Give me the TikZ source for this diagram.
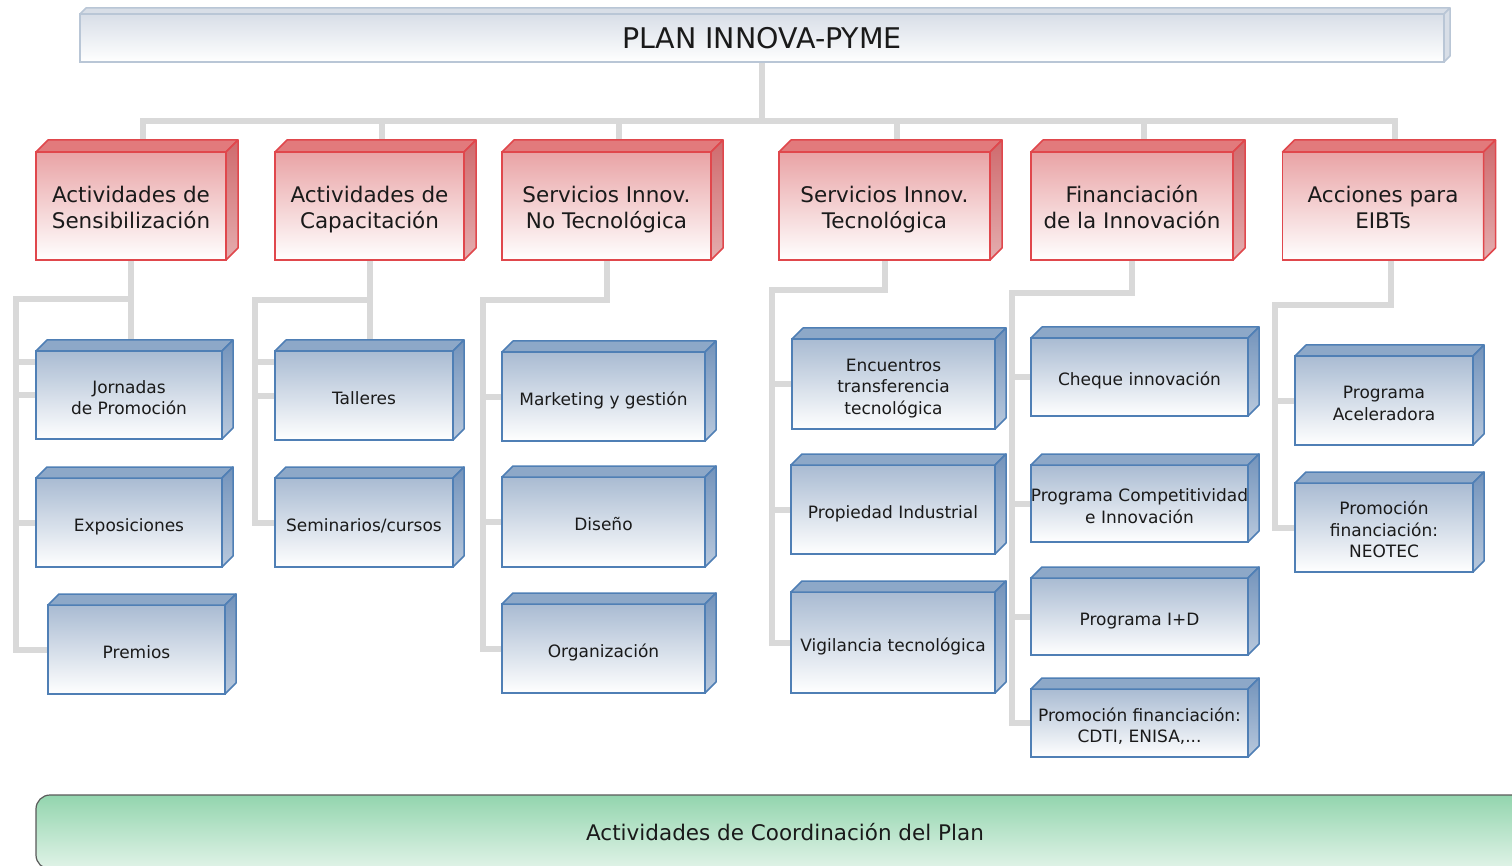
\documentclass[tikz,border=0pt]{standalone}
\usepackage{fontspec}
\setmainfont{DejaVu Sans}
\usetikzlibrary{backgrounds}

\definecolor{conngray}{HTML}{D9D9D9}
\definecolor{txt}{HTML}{1A1A1A}
\definecolor{redline}{HTML}{E0474C}
\definecolor{redtop}{HTML}{E9A3A5}
\definecolor{redbevel}{HTML}{E27A7C}
\definecolor{redside}{HTML}{CF6A6D}
\definecolor{blueline}{HTML}{4F7FB5}
\definecolor{bluetop}{HTML}{A9BBD2}
\definecolor{bluebevel}{HTML}{8DA8C8}
\definecolor{blueside}{HTML}{7393BB}
\definecolor{planline}{HTML}{B9C6D6}
\definecolor{plantop}{HTML}{D8DEE7}
\definecolor{greentop}{HTML}{93D5AE}
\definecolor{greenbot}{HTML}{E1F3E8}

% text of the boxes, a bit lower than the plain centre
\newcommand{\cattext}[2]{\rule{0pt}{26pt}#1\\#2\strut}
\newcommand{\itemtext}[1]{\rule{0pt}{24pt}#1\strut}

\begin{document}
\begin{tikzpicture}[x=1pt,y=-1pt,
    conn/.style={draw=conngray, line width=6pt, line cap=rect},
    planbox/.style={draw=planline, line width=1.5pt, top color=plantop, bottom color=white,
      inner sep=0pt, outer sep=0pt, text=txt, font=\fontsize{28.5}{34}\selectfont},
    catbox/.style={draw=redline, line width=1.5pt, top color=redtop, bottom color=white,
      inner sep=0pt, outer sep=0pt, minimum height=108pt, align=center, text=txt,
      font=\fontsize{21.5}{26}\selectfont},
    itembox/.style={draw=blueline, line width=1.5pt, top color=bluetop, bottom color=white,
      inner sep=0pt, outer sep=0pt, align=center, text=txt,
      font=\fontsize{17}{21.5}\selectfont},
    redface/.style={draw=redline, line width=1.5pt, line join=round},
    blueface/.style={draw=blueline, line width=1.5pt, line join=round},
    planface/.style={draw=planline, line width=1.5pt, line join=round, fill=plantop}
  ]
  \useasboundingbox (0,0) rectangle (1512,866);

  % Title box
  \node[planbox, minimum width=1364pt, minimum height=48pt] (plan) at (762,38) {PLAN INNOVA-PYME};
  \filldraw[planface] (plan.north west) -- ++(6,-6) -- ([shift={(6,-6)}]plan.north east) -- (plan.north east) -- cycle;
  \filldraw[planface] (plan.north east) -- ++(6,-6) -- ([shift={(6,-6)}]plan.south east) -- (plan.south east) -- cycle;

  % Main lines of action (red)
  \node[catbox, minimum width=190pt] (sens)  at (131,206)   {\cattext{Actividades de}{Sensibilización}};
  \node[catbox, minimum width=189pt] (capa)  at (369.5,206) {\cattext{Actividades de}{Capacitación}};
  \node[catbox, minimum width=209pt] (noTec) at (606.5,206) {\cattext{Servicios Innov.}{No Tecnológica}};
  \node[catbox, minimum width=211pt] (tec)   at (884.5,206) {\cattext{Servicios Innov.}{Tecnológica}};
  \node[catbox, minimum width=202pt] (fin)   at (1132,206)  {\cattext{Financiación}{de la Innovación}};
  \node[catbox, minimum width=201pt] (eibt)  at (1383,206)  {\cattext{Acciones para}{EIBTs}};

  % Actions of each line (blue)
  \node[itembox, minimum width=186pt, minimum height=88pt] (jorn) at (129,395)   {\itemtext{Jornadas\\de Promoción}};
  \node[itembox, minimum width=186pt, minimum height=89pt] (expo) at (129,522.5) {\itemtext{Exposiciones}};
  \node[itembox, minimum width=177pt, minimum height=89pt] (prem) at (136.5,649.5) {\itemtext{Premios}};

  \node[itembox, minimum width=178pt, minimum height=89pt] (tall) at (364,395.5) {\itemtext{Talleres}};
  \node[itembox, minimum width=178pt, minimum height=89pt] (semi) at (364,522.5) {\itemtext{Seminarios/cursos}};

  \node[itembox, minimum width=203pt, minimum height=89pt] (mark) at (603.5,396.5) {\itemtext{Marketing y gestión}};
  \node[itembox, minimum width=203pt, minimum height=90pt] (dise) at (603.5,522)   {\itemtext{Diseño}};
  \node[itembox, minimum width=203pt, minimum height=89pt] (orga) at (603.5,648.5) {\itemtext{Organización}};

  \node[itembox, minimum width=203pt, minimum height=90pt]  (encu) at (893.5,384)   {\itemtext{Encuentros\\transferencia\\tecnológica}};
  \node[itembox, minimum width=204pt, minimum height=89pt]  (prop) at (893,509.5)   {\itemtext{Propiedad Industrial}};
  \node[itembox, minimum width=204pt, minimum height=101pt] (vigi) at (893,642.5)   {\itemtext{Vigilancia tecnológica}};

  \node[itembox, minimum width=217pt, minimum height=78pt] (cheq)  at (1139.5,377)   {\itemtext{Cheque innovación}};
  \node[itembox, minimum width=217pt, minimum height=77pt] (comp)  at (1139.5,503.5) {\itemtext{\makebox[0pt]{Programa Competitividad}\\e Innovación}};
  \node[itembox, minimum width=217pt, minimum height=77pt] (imasd) at (1139.5,616.5) {\itemtext{Programa I+D}};
  \node[itembox, minimum width=217pt, minimum height=68pt] (cdti)  at (1139.5,723)   {\itemtext{Promoción financiación:\\CDTI, ENISA,...}};

  \node[itembox, minimum width=178pt, minimum height=89pt] (acel) at (1384,400.5) {\itemtext{Programa\\Aceleradora}};
  \node[itembox, minimum width=178pt, minimum height=89pt] (neot) at (1384,527.5) {\itemtext{Promoción\\financiación:\\NEOTEC}};

  % 3D faces
  \foreach \n in {sens,capa,noTec,tec,fin,eibt}{
    \filldraw[redface, fill=redbevel] (\n.north west) -- ++(12,-12) -- ([shift={(12,-12)}]\n.north east) -- (\n.north east) -- cycle;
    \filldraw[redface, top color=redside, bottom color=redside!55!white] (\n.north east) -- ++(12,-12) -- ([shift={(12,-12)}]\n.south east) -- (\n.south east) -- cycle;
  }
  \foreach \n in {jorn,expo,prem,tall,semi,mark,dise,orga,encu,prop,vigi,cheq,comp,imasd,cdti,acel,neot}{
    \filldraw[blueface, fill=bluebevel] (\n.north west) -- ++(11,-11) -- ([shift={(11,-11)}]\n.north east) -- (\n.north east) -- cycle;
    \filldraw[blueface, top color=blueside, bottom color=blueside!50!white] (\n.north east) -- ++(11,-11) -- ([shift={(11,-11)}]\n.south east) -- (\n.south east) -- cycle;
  }

  % Coordination bar
  \node[draw=black!65, line width=1.2pt, rounded corners=14pt, top color=greentop, bottom color=greenbot,
    minimum width=1498pt, minimum height=74pt, inner sep=0pt, text=txt,
    font=\fontsize{21.5}{26}\selectfont] (coord) at (785,832) {Actividades de Coordinación del Plan};

  % Connectors
  \begin{scope}[on background layer]
    \coordinate (bus) at (0,121);
    \draw[conn] (plan.south) -- (plan.south |- bus);
    \draw[conn] ([xshift=12pt]sens.north |- bus) -- ([xshift=12pt]eibt.north |- bus);
    \foreach \n in {sens,capa,noTec,tec,fin,eibt}
      \draw[conn] ([xshift=12pt]\n.north |- bus) -- ([shift={(12,-12)}]\n.north);

    % column 1
    \coordinate (c1) at (16,299);
    \draw[conn] (sens.south) |- (c1) -- (c1 |- prem.west) -- (prem.west);
    \draw[conn] (sens.south) -- ++(0,102) -| (c1);
    \foreach \k in {jorn,expo} \draw[conn] (c1 |- \k.west) -- (\k.west);

    % column 2
    \coordinate (c2) at (255,300);
    \draw[conn] (capa.south) |- (c2) -- (c2 |- semi.west) -- (semi.west);
    \draw[conn] (capa.south) -- ++(0,102) -| (c2);
    \draw[conn] (c2 |- tall.west) -- (tall.west);

    % column 3
    \coordinate (c3) at (483,300);
    \draw[conn] (noTec.south) |- (c3) -- (c3 |- orga.west) -- (orga.west);
    \foreach \k in {mark,dise} \draw[conn] (c3 |- \k.west) -- (\k.west);

    % column 4
    \coordinate (c4) at (772,290);
    \draw[conn] (tec.south) |- (c4) -- (c4 |- vigi.west) -- (vigi.west);
    \foreach \k in {encu,prop} \draw[conn] (c4 |- \k.west) -- (\k.west);

    % column 5
    \coordinate (c5) at (1012,293);
    \draw[conn] (fin.south) |- (c5) -- (c5 |- cdti.west) -- (cdti.west);
    \foreach \k in {cheq,comp,imasd} \draw[conn] (c5 |- \k.west) -- (\k.west);

    % column 6
    \coordinate (c6) at (1275,305);
    \draw[conn] ([xshift=8pt]eibt.south) |- (c6) -- (c6 |- neot.west) -- (neot.west);
    \draw[conn] (c6 |- acel.west) -- (acel.west);
  \end{scope}

\end{tikzpicture}
\end{document}
